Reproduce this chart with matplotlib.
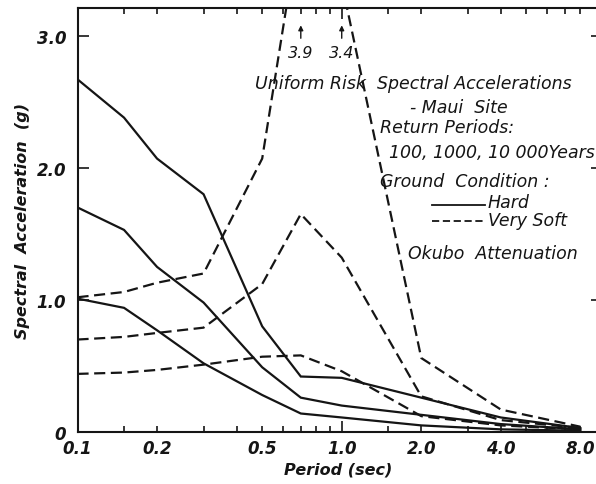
import matplotlib.pyplot as plt
from matplotlib.lines import Line2D

# Uniform risk spectra, Maui site (Okubo attenuation)
periods = [0.1, 0.15, 0.2, 0.3, 0.5, 0.7, 1.0, 2.0, 4.0, 8.0]

hard_100 = [1.01, 0.94, 0.77, 0.52, 0.28, 0.14, 0.11, 0.05, 0.02, 0.01]
hard_1000 = [1.70, 1.53, 1.25, 0.98, 0.49, 0.26, 0.20, 0.13, 0.06, 0.02]
hard_10000 = [2.67, 2.38, 2.07, 1.80, 0.80, 0.42, 0.41, 0.26, 0.11, 0.03]

soft_100 = [0.44, 0.45, 0.47, 0.51, 0.57, 0.58, 0.46, 0.12, 0.05, 0.02]
soft_1000 = [0.70, 0.72, 0.75, 0.79, 1.12, 1.65, 1.32, 0.27, 0.09, 0.03]
soft_10000 = [1.02, 1.06, 1.13, 1.20, 2.07, 3.9, 3.4, 0.56, 0.17, 0.04]

x_labels = [0.1, 0.2, 0.5, 1.0, 2.0, 4.0, 8.0]
x_minor = [0.15, 0.3, 0.4, 0.6, 0.7, 0.8, 0.9, 1.5, 3.0, 5.0, 6.0, 7.0]
y_labels = [0, 1.0, 2.0, 3.0]

INK = '#151515'
FONT = 'DejaVu Sans'
W, H = 596, 485


def px(x, y):
    # pixel position -> figure fraction
    return x / W, 1 - y / H


fig = plt.figure(figsize=(W / 100, H / 100), dpi=100)
ax = fig.add_axes([77.5 / W, 52 / H, (598 - 77.5) / W, 424 / H])

lw = 1.6
for ys in (hard_100, hard_1000, hard_10000):
    ax.plot(periods, ys, color=INK, lw=lw, solid_joinstyle='miter')
for ys in (soft_100, soft_1000, soft_10000):
    ax.plot(periods, ys, color=INK, lw=lw, dashes=(5, 2.5))

ax.set_xscale('log')
ax.set_xlim(0.1, 9.33)
ax.set_ylim(0, 3.21)

ax.set_xticks(x_labels)
ax.set_xticklabels(['{:.1f}'.format(v) for v in x_labels])
ax.set_xticks(x_minor, minor=True)
ax.set_xticklabels([], minor=True)
ax.set_yticks(y_labels)
ax.set_yticklabels(['0', '1.0', '2.0', '3.0'])

ax.tick_params(axis='x', which='both', direction='in', top=True, length=4,
               width=1.2, color=INK, pad=5)
ax.tick_params(axis='y', direction='in', right=True, length=8, width=1.2,
               color=INK, pad=8)
# longer mark at 1.0 sec, short marks on the right edge
for t in ax.xaxis.get_major_ticks():
    if abs(t.get_loc() - 1.0) < 1e-6:
        t.tick1line.set_markersize(8)
        t.tick2line.set_markersize(8)
for t in ax.yaxis.get_major_ticks():
    t.tick2line.set_markersize(5)

for lab in ax.get_xticklabels() + ax.get_yticklabels():
    lab.set_fontfamily(FONT)
    lab.set_fontstyle('oblique')
    lab.set_fontweight('bold')
    lab.set_fontsize(12)
    lab.set_color(INK)

for side in ('left', 'bottom', 'top'):
    ax.spines[side].set_linewidth(1.5)
    ax.spines[side].set_color(INK)
ax.spines['right'].set_visible(False)

ax.set_xlabel('Period (sec)', fontfamily=FONT, fontstyle='oblique',
              fontweight='bold', fontsize=11.5, color=INK, labelpad=3)
ax.set_ylabel('Spectral  Acceleration  (g)', fontfamily=FONT,
              fontstyle='oblique', fontweight='bold', fontsize=11.5,
              color=INK, labelpad=5)

# off-scale peaks of the 10 000 yr very soft spectrum
for i in (5, 6):
    t, v = periods[i], soft_10000[i]
    ax.annotate('', xy=(t, 3.1), xytext=(t, 2.96),
                arrowprops=dict(arrowstyle='-|>', color=INK, lw=1.0,
                                mutation_scale=7))
    ax.text(t, 2.87, '{:.1f}'.format(v), ha='center', va='center',
            fontfamily=FONT, fontstyle='oblique', fontsize=11.5, color=INK)

txt = dict(fontfamily=FONT, fontstyle='oblique', fontsize=12.5, color=INK,
           va='center', ha='left')
fig.text(*px(255, 84), 'Uniform Risk  Spectral Accelerations', **txt)
fig.text(*px(410, 108), '- Maui  Site', **txt)
fig.text(*px(380, 128), 'Return Periods:', **txt)
fig.text(*px(389, 153), '100, 1000, 10 000Years', **txt)
fig.text(*px(380, 182), 'Ground  Condition :', **txt)
fig.text(*px(488, 203), 'Hard', **txt)
fig.text(*px(488, 221), 'Very Soft', **txt)
fig.text(*px(408, 254), 'Okubo  Attenuation', **txt)

x0, y0 = px(432, 206)
x1, _ = px(485, 206)
fig.add_artist(Line2D([x0, x1], [y0, y0], color=INK, lw=1.3,
                      transform=fig.transFigure))
x0, y0 = px(432, 222)
fig.add_artist(Line2D([x0, x1], [y0, y0], color=INK, lw=1.3,
                      dashes=(4, 2), transform=fig.transFigure))

fig.savefig('out.png', dpi=100)
